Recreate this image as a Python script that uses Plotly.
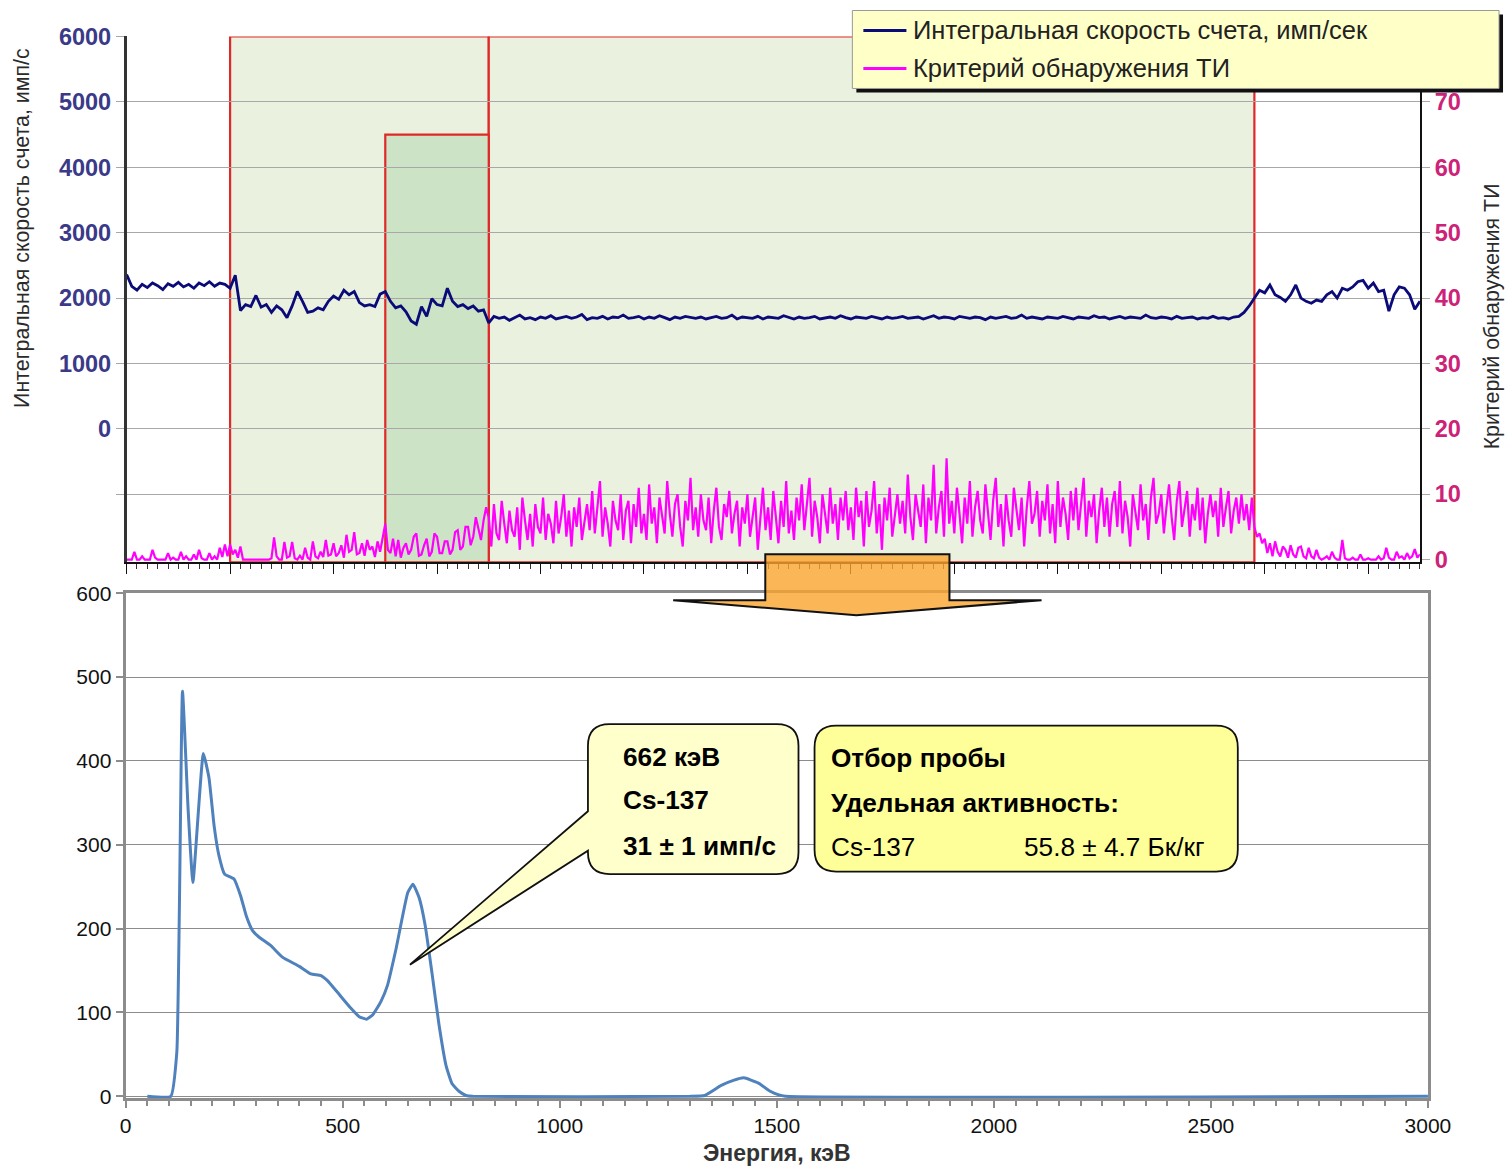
import plotly.graph_objects as go

# Layout is drawn on a 1505 x 1166 design grid; grid points are mapped onto the figure canvas.
GRID_W, GRID_H = 1505, 1166
K = 0.98                 # grid-to-canvas scale
OX, OY = 5.5, 12.5       # grid origin offset
FIG_W = int(round((GRID_W - OX) / K)) - 4
FIG_H = int(round((GRID_H - OY) / K)) - 4

# ---------------- top panel: count rate & detection criterion ----------------
rate_step = 5
rate = [
    2360, 2180, 2120, 2210, 2160, 2230, 2190, 2130, 2220, 2180, 2240, 2170, 2210, 2150, 2230, 2190, 2250, 2180, 2230, 2210,
    2150,
    2350, 1810, 1900, 1870, 2040, 1860, 1900, 1780, 1880, 1820, 1700, 1880, 2100, 1950, 1780, 1800, 1850, 1820, 1950, 2030,
    1980, 2120, 2050, 2100, 1930, 1880, 1900, 1870, 2060,
    2100, 1950, 1850, 1880, 1790, 1650, 1600, 1870, 1720, 1990, 1900, 1880, 2150, 1950, 1870, 1900, 1840, 1880, 1800, 1820,
    1620, 1720, 1690, 1710, 1660, 1700, 1740, 1680, 1700, 1670,
    1710, 1690, 1730, 1680, 1700, 1720, 1690, 1710, 1750, 1670,
    1700, 1690, 1720, 1680, 1710, 1700, 1740, 1690, 1700, 1720,
    1680, 1710, 1690, 1730, 1700, 1670, 1710, 1690, 1720, 1700,
    1690, 1710, 1680, 1700, 1720, 1690, 1700, 1740, 1680, 1710,
    1700, 1690, 1720, 1680, 1710, 1700, 1690, 1730, 1700, 1680,
    1710, 1690, 1700, 1720, 1680, 1700, 1710, 1690, 1730, 1700,
    1680, 1710, 1700, 1690, 1720, 1700, 1680, 1710, 1690, 1700,
    1720, 1690, 1700, 1710, 1680, 1700, 1730, 1690, 1710, 1700,
    1680, 1720, 1700, 1690, 1710, 1700, 1670, 1710, 1690, 1700,
    1720, 1690, 1700, 1740, 1690, 1710, 1700, 1680, 1710, 1700,
    1690, 1720, 1700, 1680, 1710, 1700, 1690, 1730, 1700, 1710,
    1680, 1700, 1720, 1690, 1710, 1700, 1690, 1740, 1700, 1690,
    1710, 1700, 1680, 1720, 1690, 1700, 1710, 1680, 1700, 1690,
    1720, 1690, 1700, 1680, 1710, 1720, 1780, 1880,
    2000, 2120, 2080, 2200, 2050, 2010, 1950, 2050, 2200, 2000, 1950, 1920, 1970, 1950, 2050, 2100, 2000, 2150, 2120, 2170,
    2250, 2270, 2150, 2230, 2100, 2120, 1800, 2050, 2170, 2150, 2050, 1830, 1950,
]

crit_step = 2.5
criterion = [
    # before the zones
    0, 0, 0, 1.2, 0, 0, 0.5, 0, 0, 0, 1.5, 0.3, 0, 0, 0, 0, 1.0, 0, 0.3, 0,
    0, 1.2, 0, 0.5, 0, 0, 0.8, 0, 1.5, 0.2, 0, 0, 1.0, 0, 0.5, 0, 1.8, 0.4, 2.3, 0.5,
    # first zone
    2.3, 0.8, 1.5, 0.3, 2.0, 0, 0, 0, 0, 0,
    0, 0, 0, 0, 0, 0, 0.2, 3.4, 0.5, 0,
    0, 2.7, 0.3, 0.5, 2.7, 0.2, 0, 0.6, 0, 1.8,
    0.3, 0, 2.8, 0.5, 0.2, 1.2, 0.4, 3.0, 0.6, 0.8,
    2.5, 0.5, 1.0, 2.2, 0.3, 3.8, 1.2, 1.5, 4.2, 0.8,
    1.0, 2.5, 0.6, 3.0, 1.5, 2.0, 0.4, 2.8, 1.2, 3.5,
    # sampling sub-zone
    5.5, 1.5, 1.0, 3.2, 0.5, 3.0, 0.3, 1.8, 2.5, 0.8,
    1.5, 3.5, 4.0, 0.6, 0.8, 2.2, 3.2, 0.5, 1.2, 4.0,
    3.5, 1.0, 1.0, 2.8, 2.8, 0.8, 1.5, 4.2, 4.5, 1.5,
    2.0, 5.0, 5.0, 2.2, 3.5, 6.5, 4.8, 3.0, 6.0, 8.0,
    # second zone
    6.5, 2.0, 8.5, 4.0, 3.0, 9.0, 5.5, 2.5, 7.5, 4.5, 3.5, 8.0, 1.5, 9.5, 6.0, 3.0, 7.0, 2.0, 8.5, 5.0,
    4.0, 9.5, 3.0, 7.0, 5.5, 2.5, 9.0, 4.0, 6.5, 10.0, 3.5, 7.5, 2.0, 8.0, 5.0, 9.5, 3.0, 6.0, 8.5, 4.5,
    10.5, 4.0, 7.5, 12.0, 3.5, 8.0, 5.5, 2.0, 9.0, 6.0, 4.5, 10.0, 3.0, 7.5, 9.0, 2.5, 8.5, 5.0, 11.0, 4.0,
    7.0, 3.0, 11.5, 5.5, 8.0, 2.5, 9.5, 6.5, 4.0, 12.0, 7.0, 3.5, 8.5, 10.0, 5.0, 2.0, 9.0, 6.0, 12.5, 4.5,
    8.0, 3.5, 10.0, 6.0, 4.5, 9.5, 2.5, 7.5, 11.0, 5.0, 3.0, 8.5, 6.5, 10.5, 4.0, 7.0, 9.0, 2.0, 8.0, 5.5,
    10.0, 3.5, 7.0, 9.5, 1.5, 6.0, 11.0, 4.5, 8.0, 3.0, 10.5, 6.5, 2.5, 9.0, 5.0, 12.0, 4.0, 7.5, 3.0, 9.5,
    6.0, 11.5, 4.5, 8.5, 12.5, 3.5, 9.0, 6.5, 2.5, 10.0, 7.0, 4.0, 11.0, 5.5, 8.5, 3.0, 9.5, 6.0, 10.5, 4.5,
    8.0, 3.0, 11.0, 6.5, 9.0, 2.0, 10.5, 5.0, 7.5, 12.0, 4.0, 8.5, 1.5, 9.5, 6.0, 11.0, 3.5, 7.0, 10.0, 5.5,
    9.0, 4.0, 13.0, 6.5, 3.0, 10.0, 7.5, 5.0, 11.5, 2.5, 9.5, 6.0, 14.5, 4.0, 8.0, 10.5, 3.5, 15.5, 5.5, 9.0,
    4.0, 11.0, 7.0, 2.5, 9.5, 5.5, 12.0, 3.5, 8.0, 10.5, 6.0, 4.0, 11.5, 7.5, 3.0, 9.0, 12.5, 5.0, 8.5, 2.0,
    10.0, 6.0, 3.5, 11.0, 7.5, 4.5, 9.5, 2.0, 8.0, 12.0, 5.5, 7.0, 10.5, 3.5, 9.0, 6.0, 11.5, 4.0, 8.5, 2.5,
    12.0, 5.0, 9.5, 7.0, 3.0, 10.5, 6.0, 11.0, 4.5, 8.0, 12.5, 3.5, 9.0, 6.5, 10.0, 2.5, 7.5, 11.0, 5.0, 9.5,
    3.5, 8.5, 10.5, 5.0, 12.0, 4.0, 9.0, 6.5, 2.0, 10.0, 7.0, 4.5, 11.5, 6.0, 8.5, 3.0, 9.5, 12.5, 5.5, 7.0,
    10.0, 4.0, 8.0, 11.5, 6.5, 3.0, 9.0, 12.0, 5.0, 7.5, 10.5, 3.5, 8.5, 6.0, 11.0, 4.5, 9.5, 2.5, 7.0, 10.0,
    6.5, 9.0, 3.5, 11.0, 5.0, 8.0, 10.5, 4.0, 7.5, 9.5, 5.5, 10.0, 6.0, 8.5, 4.5, 9.5,
    # after the zones
    5.0, 3.5, 4.0, 2.5, 3.2, 1.0, 2.5, 0.5, 2.8, 1.2, 0.5, 2.0, 1.5, 0.3, 2.2, 0.8, 0.3, 1.8, 2.0, 0.5,
    0.2, 1.8, 0.5, 0.2, 1.5, 0.3, 0, 0.2, 0.5, 0, 1.2, 0.3, 0, 0, 3.0, 0.2, 0, 0, 0.3, 0,
    0, 0.8, 0, 0, 0.2, 0, 0, 0, 0.5, 0, 0.2, 1.8, 0.3, 0, 0, 1.2, 0.3, 0.5, 0, 1.0,
    0.2, 0.5, 1.6, 0.3, 0.8,
]
t_rate = [i * rate_step for i in range(len(rate))]
t_crit = [i * crit_step for i in range(len(criterion))]

# measurement zones (time units) and the sampling sub-zone
zone_edges = [100, 350, 1090]
sample_zone = [250, 350]
sample_zone_top = 4500

left_ticks = [0, 1000, 2000, 3000, 4000, 5000, 6000]
right_ticks = [0, 10, 20, 30, 40, 50, 60, 70]

# ---------------- bottom panel: gamma spectrum ----------------
energy = [50, 104, 118, 131, 144, 155, 179, 192, 204, 215, 228, 250, 265, 278, 292, 307, 334, 361, 400, 427,
          450, 465, 488, 519, 538, 555, 569, 588, 603, 623, 650, 662, 676, 690, 706, 722, 738, 752, 768, 784,
          800, 1300, 1334, 1372, 1400, 1424, 1457, 1485, 1503, 1520, 3000]
counts = [0, 0, 53, 483, 342, 255, 409, 380, 322, 287, 265, 259, 239, 215, 198, 190, 180, 166, 155, 146,
          144, 138, 124, 105, 95, 92, 97, 113, 132, 176, 243, 253, 237, 204, 146, 85, 37, 15, 6, 1,
          0, 0, 1, 13, 19, 22, 16, 6, 2, 0, 0]

peak_label = ["662 кэВ", "Cs-137", "31 ± 1 имп/с"]
sample_label = ["Отбор пробы", "Удельная активность:", "Cs-137", "55.8 ± 4.7 Бк/кг"]

FONT = "Arial, 'Liberation Sans', sans-serif"
NAVY = "#0A0A78"
MAGENTA = "#FF00FF"


def px(g):
    """design-grid x -> paper fraction"""
    return ((g - OX) / K) / FIG_W


def py(g):
    """design-grid y (from top) -> paper fraction"""
    return 1 - ((g - OY) / K) / FIG_H


def fs(size):
    return round(size / K, 1)


fig = go.Figure()

fig.add_trace(go.Scatter(x=t_rate, y=rate, mode="lines", line=dict(color=NAVY, width=2.8),
                         xaxis="x", yaxis="y", showlegend=False))
fig.add_trace(go.Scatter(x=t_crit, y=criterion, mode="lines", line=dict(color=MAGENTA, width=2.2),
                         xaxis="x", yaxis="y2", showlegend=False))
fig.add_trace(go.Scatter(x=energy, y=counts, mode="lines", line=dict(color="#4F81BD", width=3,
                         shape="spline", smoothing=0.4),
                         xaxis="x2", yaxis="y3", showlegend=False))

left_min = -2040
right_min = left_min / 100 + 20

shapes = []
# zones of the top panel
for a, b in zip(zone_edges[:-1], zone_edges[1:]):
    shapes.append(dict(type="rect", xref="x", yref="y", x0=a, x1=b, y0=left_min, y1=6000,
                       fillcolor="#EBF1DF", line=dict(color="#E02828", width=2.2), layer="below"))
shapes.append(dict(type="rect", xref="x", yref="y", x0=sample_zone[0], x1=sample_zone[1],
                   y0=left_min, y1=sample_zone_top,
                   fillcolor="#CDE3C5", line=dict(color="#E02828", width=2.2), layer="below"))

# legend box with shadow
shapes.append(dict(type="rect", xref="paper", yref="paper", x0=px(855), x1=px(1501), y0=py(92), y1=py(14),
                   fillcolor="#111111", line=dict(width=0), layer="above"))
shapes.append(dict(type="rect", xref="paper", yref="paper", x0=px(851), x1=px(1497), y0=py(88), y1=py(10),
                   fillcolor="#FFFFC8", line=dict(color="#9A9A9A", width=1), layer="above"))
shapes.append(dict(type="line", xref="paper", yref="paper", x0=px(862), x1=px(905), y0=py(30), y1=py(30),
                   line=dict(color=NAVY, width=3), layer="above"))
shapes.append(dict(type="line", xref="paper", yref="paper", x0=px(862), x1=px(905), y0=py(68), y1=py(68),
                   line=dict(color=MAGENTA, width=3), layer="above"))

# orange arrow from the sampling zone down to the spectrum
arrow_pts = [(764, 554), (948, 554), (948, 600), (1040, 600), (855, 615), (672, 600), (764, 600)]
arrow_path = "M " + " L ".join(f"{px(a):.5f},{py(b):.5f}" for a, b in arrow_pts) + " Z"
shapes.append(dict(type="path", xref="paper", yref="paper", path=arrow_path,
                   fillcolor="rgba(250,165,45,0.8)", line=dict(color="#111111", width=2), layer="above"))


def callout_path(x0, x1, y0, y1, rx, ry, wedge=None):
    parts = [f"M {x0 + rx},{y1}", f"L {x1 - rx},{y1}", f"Q {x1},{y1} {x1},{y1 - ry}",
             f"L {x1},{y0 + ry}", f"Q {x1},{y0} {x1 - rx},{y0}", f"L {x0 + rx},{y0}",
             f"Q {x0},{y0} {x0},{y0 + ry}"]
    if wedge:
        wb, (tx, ty), wt = wedge
        parts += [f"L {x0},{wb}", f"L {tx},{ty}", f"L {x0},{wt}"]
    parts += [f"L {x0},{y1 - ry}", f"Q {x0},{y1} {x0 + rx},{y1}", "Z"]
    return " ".join(parts)


# callout pointing at the 662 keV peak, and the sample summary box
shapes.append(dict(type="path", xref="x2", yref="y3",
                   path=callout_path(1065, 1550, 265, 444, 50, 26, wedge=(293, (655, 157), 340)),
                   fillcolor="#FFFFCC", line=dict(color="#111111", width=1.8), layer="above"))
shapes.append(dict(type="path", xref="x2", yref="y3",
                   path=callout_path(1587, 2562, 268, 442, 50, 26),
                   fillcolor="#FFFF99", line=dict(color="#111111", width=1.8), layer="above"))

CALL_FONT = dict(family=FONT, size=fs(25.7), color="#000")
annotations = []
for txt, yy in zip(peak_label, [405, 353, 298]):
    annotations.append(dict(xref="x2", yref="y3", x=1141, y=yy, text=f"<b>{txt}</b>", showarrow=False,
                            xanchor="left", yanchor="middle", font=CALL_FONT))
annotations.append(dict(xref="x2", yref="y3", x=1621, y=404, text=f"<b>{sample_label[0]}</b>", showarrow=False,
                        xanchor="left", yanchor="middle", font=CALL_FONT))
annotations.append(dict(xref="x2", yref="y3", x=1621, y=350, text=f"<b>{sample_label[1]}</b>", showarrow=False,
                        xanchor="left", yanchor="middle", font=CALL_FONT))
annotations.append(dict(xref="x2", yref="y3", x=1621, y=297, text=sample_label[2], showarrow=False,
                        xanchor="left", yanchor="middle", font=CALL_FONT))
annotations.append(dict(xref="x2", yref="y3", x=2064, y=297, text=sample_label[3], showarrow=False,
                        xanchor="left", yanchor="middle", font=CALL_FONT))

# legend texts
annotations.append(dict(xref="paper", yref="paper", x=px(910), y=py(30), text="Интегральная скорость счета, имп/сек",
                        showarrow=False, xanchor="left", yanchor="middle",
                        font=dict(family=FONT, size=fs(25), color="#222")))
annotations.append(dict(xref="paper", yref="paper", x=px(910), y=py(68), text="Критерий обнаружения ТИ",
                        showarrow=False, xanchor="left", yanchor="middle",
                        font=dict(family=FONT, size=fs(25), color="#222")))

# axis titles
annotations.append(dict(xref="paper", yref="paper", x=px(22), y=py(228), text="Интегральная скорость счета, имп/с",
                        textangle=-90, showarrow=False, xanchor="center", yanchor="middle",
                        font=dict(family=FONT, size=fs(21), color="#2A2A2A")))
annotations.append(dict(xref="paper", yref="paper", x=px(1490), y=py(316), text="Критерий обнаружения ТИ",
                        textangle=-90, showarrow=False, xanchor="center", yanchor="middle",
                        font=dict(family=FONT, size=fs(21), color="#2A2A2A")))
annotations.append(dict(xref="paper", yref="paper", x=px(776), y=py(1153), text="<b>Энергия, кэВ</b>",
                        showarrow=False, xanchor="center", yanchor="middle",
                        font=dict(family=FONT, size=fs(22.5), color="#333")))

fig.update_layout(
    width=FIG_W, height=FIG_H,
    margin=dict(l=0, r=0, t=0, b=0),
    paper_bgcolor="white", plot_bgcolor="white",
    font=dict(family=FONT),
    showlegend=False,
    shapes=shapes,
    annotations=annotations,
    xaxis=dict(domain=[px(126), px(1418)], range=[0, t_rate[-1]], anchor="y",
               showgrid=False, zeroline=False, showline=True, linecolor="#111", linewidth=2,
               ticks="outside", ticklen=10, tickwidth=1.2, tickcolor="#111", dtick=100, tick0=0,
               showticklabels=False,
               minor=dict(dtick=10, ticks="outside", ticklen=5, tickwidth=1, tickcolor="#333")),
    yaxis=dict(domain=[py(562), py(36)], range=[left_min, 6000], anchor="x",
               tickvals=[-1000] + left_ticks, ticktext=[""] + [str(v) for v in left_ticks],
               showgrid=True, gridcolor="#A8A8A8", gridwidth=1.4, zeroline=False,
               showline=True, linecolor="#333", linewidth=2.5,
               ticks="outside", ticklen=8, tickcolor="#A8A8A8",
               tickfont=dict(family=FONT, size=fs(23), color="#3A3A88", weight="bold")),
    yaxis2=dict(overlaying="y", side="right", anchor="x", range=[right_min, 80],
                tickvals=right_ticks, showgrid=False, zeroline=False,
                showline=True, linecolor="#111", linewidth=2,
                ticks="outside", ticklen=8, tickcolor="#A8A8A8",
                tickfont=dict(family=FONT, size=fs(23), color="#CC2277", weight="bold")),
    xaxis2=dict(domain=[px(125), px(1426)], range=[0, 3000], anchor="y3",
                showgrid=False, zeroline=False, showline=True, mirror=True,
                linecolor="#8C8C8C", linewidth=3, dtick=500, tick0=0,
                ticks="outside", ticklen=7, tickwidth=2, tickcolor="#8C8C8C",
                tickfont=dict(family=FONT, size=fs(20.6), color="#111"),
                minor=dict(dtick=50, ticks="outside", ticklen=5, tickwidth=2, tickcolor="#8C8C8C")),
    yaxis3=dict(domain=[py(1098), py(593)], range=[-2, 600], anchor="x2",
                tickvals=[0, 100, 200, 300, 400, 500, 600],
                showgrid=True, gridcolor="#8C8C8C", gridwidth=1.4, zeroline=False,
                showline=True, mirror=True, linecolor="#8C8C8C", linewidth=3,
                ticks="outside", ticklen=7, tickwidth=2, tickcolor="#8C8C8C",
                tickfont=dict(family=FONT, size=fs(20.6), color="#111")),
)

fig.write_html("out.html")
